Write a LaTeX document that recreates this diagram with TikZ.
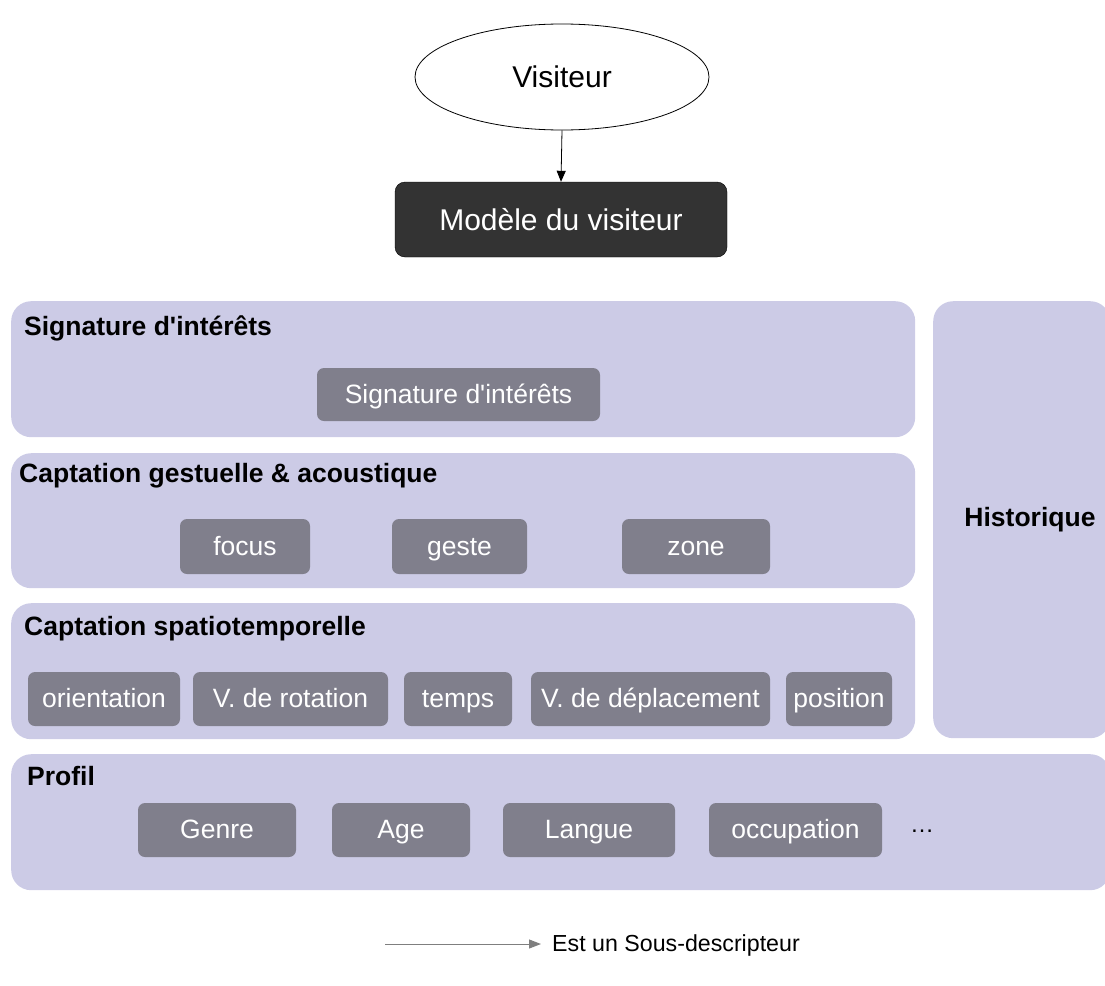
\documentclass[tikz,border=0pt]{standalone}
\usepackage{fontspec}
\setmainfont{Liberation Sans}
\usetikzlibrary{shapes.geometric,arrows.meta}
\definecolor{panelc}{HTML}{CCCBE6}
\definecolor{innerc}{HTML}{807F8C}
\definecolor{darkc}{HTML}{333333}
\definecolor{legc}{HTML}{7F7F7F}
\tikzset{
  panel/.style={draw=none,fill=panelc,rounded corners=20pt,anchor=north west,inner sep=0pt},
  inner/.style={draw=none,fill=innerc,rounded corners=7pt,text=white,font=\fontsize{26.5}{30}\selectfont,inner sep=0pt,text height=21pt,text depth=3.5pt},
  ptitle/.style={anchor=west,font=\bfseries\fontsize{26.5}{30}\selectfont,inner sep=0pt,text height=21pt,text depth=3.5pt},
}
\begin{document}
\begin{tikzpicture}[x=1pt,y=-1pt]
\useasboundingbox (0,0) rectangle (1105,985);
% top
\node[ellipse,draw=black,line width=0.8pt,fill=white,minimum width=294pt,minimum height=106pt,font=\fontsize{30}{34}\selectfont] (vis) at (562,77) {Visiteur};
\node[draw=black,fill=darkc,rounded corners=10pt,minimum width=332pt,minimum height=75pt,text=white,font=\fontsize{30}{34}\selectfont,inner sep=0pt] (mod) at (561,219.5) {Modèle du visiteur};
\draw[-{Triangle[length=11pt,width=9pt]},line width=0.8pt] (vis.south) -- (mod.north);
% panels
\node[panel,minimum width=904pt,minimum height=136pt] (psig) at (11,301) {};
\node[panel,minimum width=904pt,minimum height=135pt] (pges) at (11,453) {};
\node[panel,minimum width=904pt,minimum height=136pt] (pspa) at (11,603) {};
\node[panel,minimum width=177pt,minimum height=437pt] (phis) at (933,301) {};
\node[panel,minimum width=1099pt,minimum height=136pt] (ppro) at (11,754) {};
% titles
\node[ptitle] (tsig) at (24,327) {Signature d\textquotesingle intérêts};
\node[ptitle] (tges) at (19,474) {Captation gestuelle \& acoustique};
\node[ptitle] (tspa) at (24,627) {Captation spatiotemporelle};
\node[ptitle] (tpro) at (27,777) {Profil};
\node[font=\bfseries\fontsize{26.5}{30}\selectfont,inner sep=0pt] (this) at (1030,520) {Historique};
% signature
\node[inner,minimum width=283pt,minimum height=53pt] (isig) at (458.5,394.5) {Signature d\textquotesingle intérêts};
% gestuelle
\node[inner,minimum width=130pt,minimum height=55pt] (ifoc) at (245,546.5) {focus};
\node[inner,minimum width=135pt,minimum height=55pt] (iges) at (459.5,546.5) {geste};
\node[inner,minimum width=148pt,minimum height=55pt] (izon) at (696,546.5) {zone};
% spatio
\node[inner,minimum width=152pt,minimum height=54pt] (iori) at (104,699) {orientation};
\node[inner,minimum width=195pt,minimum height=54pt] (irot) at (290.5,699) {V. de rotation};
\node[inner,minimum width=108pt,minimum height=54pt] (item) at (458,699) {temps};
\node[inner,minimum width=239pt,minimum height=54pt] (idep) at (650.5,699) {V. de déplacement};
\node[inner,minimum width=106pt,minimum height=54pt] (ipos) at (839,699) {position};
% profil
\node[inner,minimum width=158pt,minimum height=54pt] (igen) at (217,830) {Genre};
\node[inner,minimum width=138pt,minimum height=54pt] (iage) at (401,830) {Age};
\node[inner,minimum width=172pt,minimum height=54pt] (ilan) at (589,830) {Langue};
\node[inner,minimum width=173pt,minimum height=54pt] (iocc) at (795.5,830) {occupation};
\node[font=\fontsize{24}{28}\selectfont,inner sep=0pt] (dots) at (922,831) {\dots};
% legend
\coordinate (la) at (385,944);
\coordinate (lb) at (541,944);
\draw[draw=legc,line width=1pt,-{Triangle[length=12pt,width=9pt]}] (la) -- (lb);
\node[anchor=west,font=\fontsize{23.2}{27}\selectfont,inner sep=0pt] (ltxt) at (552,945) {Est un Sous-descripteur};
\end{tikzpicture}
\end{document}
